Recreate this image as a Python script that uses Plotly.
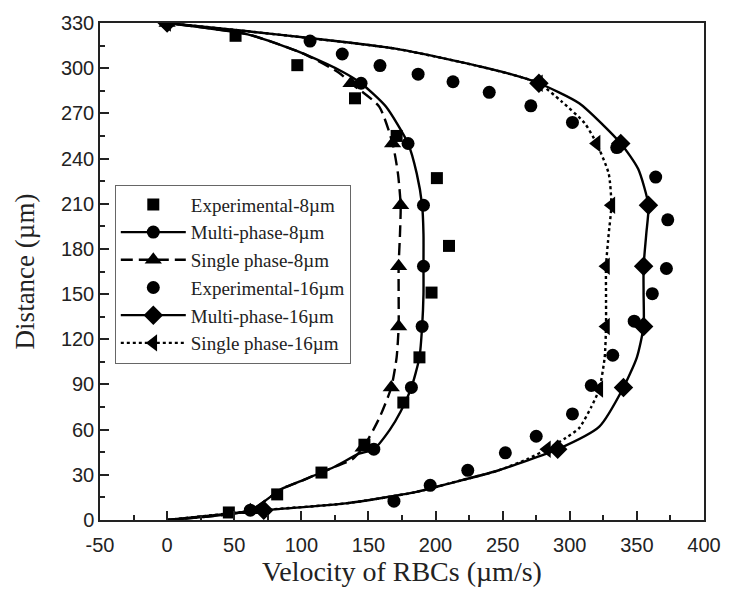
import plotly.graph_objects as go

# ---- data (velocity µm/s, distance µm) ----
exp8_x = [46, 82, 115, 147, 176, 188, 197, 210, 201, 171, 140, 97, 51]
exp8_y = [5, 17, 31.5, 50, 78, 108, 151, 182, 227, 255, 280, 302, 321.5]

exp16_x = [169, 196, 224, 252, 275, 302, 316, 332, 348, 361.5, 372, 373, 364, 335,
           302, 271, 240, 213, 187, 158.6, 130.5, 106.5]
exp16_y = [12.5, 23, 33, 44.6, 55.6, 70.4, 89.3, 109.4, 132, 150.3, 167, 199.3, 227.7, 247.3,
           264, 275, 284, 291, 296, 301.7, 309.4, 318]

multi8_line_x = [0, 62, 85, 100, 124, 143, 154, 166, 174, 182, 188, 190, 191, 191, 191, 190,
                 186, 179.5, 163, 144.5, 131, 102, 89, 60, 0]
multi8_line_y = [0, 6.5, 20.5, 26, 35, 44, 47, 60, 72, 88, 108, 128.5, 150, 168.5, 190, 209,
                 230, 250, 274.5, 290, 297.5, 309.5, 314, 322.5, 330]
multi8_mark_x = [62, 154, 182, 190, 191, 191, 179.5, 144.5, 0]
multi8_mark_y = [6.5, 47, 88, 128.5, 168.5, 209, 250, 290, 330]

single8_line_x = [0, 62, 85, 100, 124, 138, 146, 158, 167, 171, 172.5, 172.5, 172.5, 173.5,
                  174, 172, 168, 158, 137, 128, 102, 89, 60, 0]
single8_line_y = [0, 6.5, 20.5, 26, 35, 40.3, 48, 67.5, 88, 108, 128.5, 150, 168.5, 190,
                  209, 230, 250, 274.5, 290, 297, 309.5, 314, 322.5, 330]
single8_mark_x = [62, 146, 167, 172.5, 172.5, 174, 168, 137, 0]
single8_mark_y = [6.5, 48, 88, 128.5, 168.5, 209, 250, 290, 330]

multi16_line_x = [0, 72, 133, 185, 209, 246, 291, 322, 340, 350, 355, 355, 355, 357, 358.6,
                  351, 338, 307, 277, 256, 219, 170, 106, 60, 0]
multi16_line_y = [0, 6.5, 11, 18.5, 24, 32.7, 47, 62, 88, 108, 128.5, 150, 168.5, 190, 209,
                  233, 250, 276.7, 290, 296, 304, 313, 320, 324.5, 330]
multi16_mark_x = [72, 291, 340, 355, 355, 358.6, 338, 277, 0]
multi16_mark_y = [6.5, 47, 88, 128.5, 168.5, 209, 250, 290, 330]

single16_line_x = [0, 70, 133, 185, 209, 246, 268, 283, 297, 307, 316, 322, 326, 327, 327,
                   327, 329, 331, 329, 320, 311, 294, 277, 256, 219, 170, 106, 60, 0]
single16_line_y = [0, 6.5, 11, 18.5, 24, 32.7, 40.3, 47, 54.5, 61, 75, 87, 108, 128.5, 150,
                   168.5, 190, 209, 230, 250, 263.6, 277.8, 290, 296, 304, 313, 320, 324.5, 330]
single16_mark_x = [70, 283, 322, 327, 327, 331, 320, 277, 0]
single16_mark_y = [6.5, 47, 87, 128.5, 168.5, 209, 250, 290, 330]

x_tickvals = [-50, 0, 50, 100, 150, 200, 250, 300, 350, 400]
x_ticktext = ["-50", "0", "50", "100", "150", "200", "250", "300", "350", "400"]
y_tickvals = [0, 30, 60, 90, 120, 150, 180, 210, 240, 270, 300, 330]

names = ["Experimental-8µm", "Multi-phase-8µm", "Single phase-8µm",
         "Experimental-16µm", "Multi-phase-16µm", "Single phase-16µm"]

BLACK = "black"
LW = 2.4
SIZES = {"circle": 13, "square": 12, "triangle-up": 15, "triangle-left": 15, "diamond": 15}
DASH8 = "12px,6px"

fig = go.Figure()

models = [
    (multi8_line_x, multi8_line_y, multi8_mark_x, multi8_mark_y, "solid", "circle"),
    (single8_line_x, single8_line_y, single8_mark_x, single8_mark_y, DASH8, "triangle-up"),
    (multi16_line_x, multi16_line_y, multi16_mark_x, multi16_mark_y, "solid", "diamond"),
    (single16_line_x, single16_line_y, single16_mark_x, single16_mark_y, "dot", "triangle-left"),
]
for lx, ly, mx, my, dash, sym in models:
    fig.add_trace(go.Scatter(x=lx, y=ly, mode="lines", showlegend=False,
                             line=dict(color=BLACK, width=LW, dash=dash, shape="spline", smoothing=0.6),
                             hoverinfo="skip"))
    fig.add_trace(go.Scatter(x=mx, y=my, mode="markers", showlegend=False,
                             marker=dict(symbol=sym, size=SIZES[sym], color=BLACK)))

fig.add_trace(go.Scatter(x=exp8_x, y=exp8_y, mode="markers", showlegend=False,
                         marker=dict(symbol="square", size=SIZES["square"], color=BLACK)))
fig.add_trace(go.Scatter(x=exp16_x, y=exp16_y, mode="markers", showlegend=False,
                         marker=dict(symbol="circle", size=SIZES["circle"], color=BLACK)))

leg = [
    (names[0], "markers", "square", "solid"),
    (names[1], "lines+markers", "circle", "solid"),
    (names[2], "lines+markers", "triangle-up", DASH8),
    (names[3], "markers", "circle", "solid"),
    (names[4], "lines+markers", "diamond", "solid"),
    (names[5], "lines+markers", "triangle-left", "dot"),
]
for nm, mode, sym, dash in leg:
    fig.add_trace(go.Scatter(x=[None], y=[None], mode=mode, name=nm,
                             marker=dict(symbol=sym, size=SIZES[sym], color=BLACK),
                             line=dict(color=BLACK, width=LW, dash=dash)))

axis_common = dict(
    showgrid=False, zeroline=False, showline=True, linecolor="#222", linewidth=1.5,
    mirror=True, ticks="inside", ticklen=9, tickwidth=1.5, tickcolor="#222",
    tickfont=dict(family="Liberation Sans, Arial", size=20, color="#222"),
)

fig.update_xaxes(range=[-50, 400], tickmode="array", tickvals=x_tickvals, ticktext=x_ticktext,
                 minor=dict(ticks="inside", dtick=25, tick0=0, ticklen=5, tickwidth=1.5, tickcolor="#222"),
                 ticklabelstandoff=6,
                 title=dict(text="Velocity of RBCs (µm/s)",
                            font=dict(family="Liberation Serif, Times New Roman", size=28, color="#222"),
                            standoff=2),
                 **axis_common)
fig.update_yaxes(range=[0, 330], tickmode="array", tickvals=y_tickvals,
                 minor=dict(ticks="inside", dtick=15, tick0=0, ticklen=5, tickwidth=1.5, tickcolor="#222"),
                 title=dict(text="Distance (µm)",
                            font=dict(family="Liberation Serif, Times New Roman", size=27, color="#222"),
                            standoff=18),
                 **axis_common)

fig.update_layout(
    width=733, height=600,
    margin=dict(l=100, r=20, t=15, b=80),
    plot_bgcolor="white", paper_bgcolor="white",
    legend=dict(x=0.0245, y=0.675, xanchor="left", yanchor="top",
                bgcolor="white", bordercolor="#666", borderwidth=1,
                font=dict(family="Liberation Serif, Times New Roman", size=19, color="#222"),
                tracegroupgap=0, itemwidth=65),
)

fig.write_html("out.html")
